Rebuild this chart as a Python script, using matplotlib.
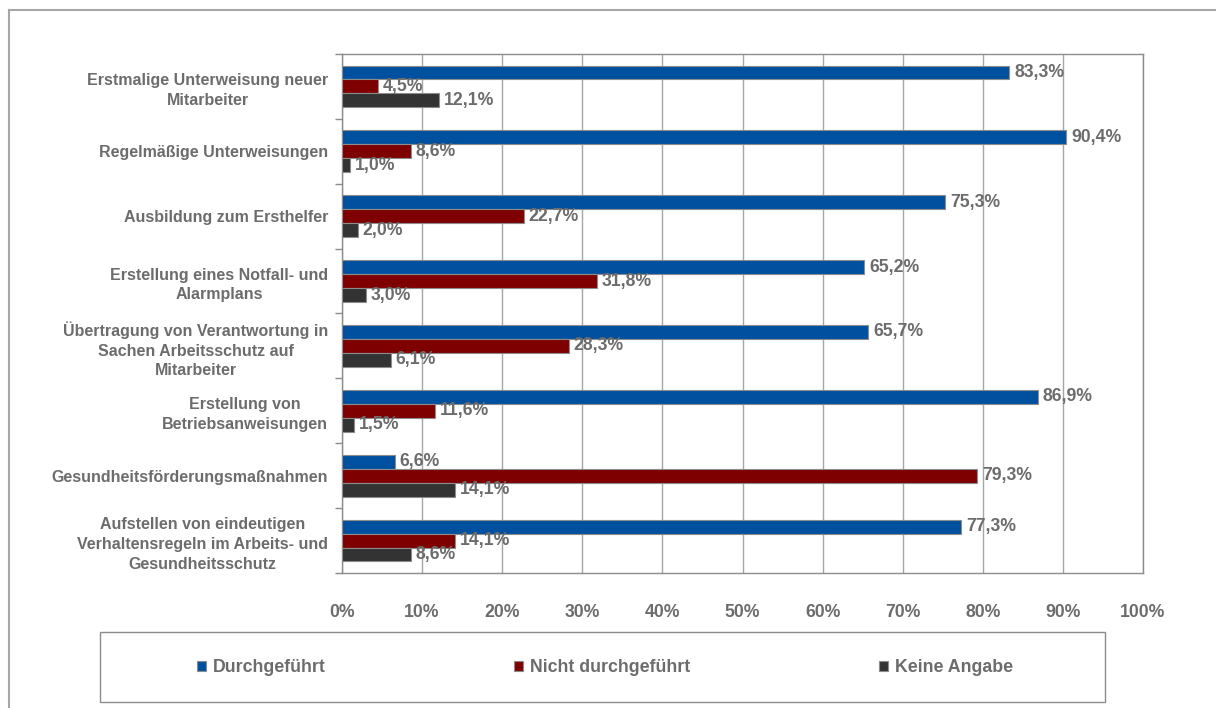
import numpy as np
import matplotlib.pyplot as plt
from matplotlib.patches import Rectangle
from matplotlib.lines import Line2D

plt.rcParams['font.family'] = ['Liberation Sans', 'DejaVu Sans']
plt.rcParams['font.weight'] = 'bold'

categories = [
    'Erstmalige Unterweisung neuer\nMitarbeiter',
    'Regelmäßige Unterweisungen',
    'Ausbildung zum Ersthelfer',
    'Erstellung eines Notfall- und\nAlarmplans',
    'Übertragung von Verantwortung in\nSachen Arbeitsschutz auf\nMitarbeiter',
    'Erstellung von\nBetriebsanweisungen',
    'Gesundheitsförderungsmaßnahmen',
    'Aufstellen von eindeutigen\nVerhaltensregeln im Arbeits- und\nGesundheitsschutz',
]
durchgefuehrt = [83.3, 90.4, 75.3, 65.2, 65.7, 86.9, 6.6, 77.3]
nicht_durchgefuehrt = [4.5, 8.6, 22.7, 31.8, 28.3, 11.6, 79.3, 14.1]
keine_angabe = [12.1, 1.0, 2.0, 3.0, 6.1, 1.5, 14.1, 8.6]

series = [
    ('Durchgeführt', durchgefuehrt, '#0050a0'),
    ('Nicht durchgeführt', nicht_durchgefuehrt, '#7f0000'),
    ('Keine Angabe', keine_angabe, '#333333'),
]

txt = '#6c6c6c'
fig = plt.figure(figsize=(12.16, 7.08), dpi=100)
ax = fig.add_axes([342 / 1216, 1 - 573 / 708, 801 / 1216, 519 / 708])

y = np.arange(len(categories))
h = 0.215
for i, (name, vals, col) in enumerate(series):
    pos = y + (i - 1) * h
    bars = ax.barh(pos, vals, height=h, color=col, edgecolor='#8c8c8c',
                   linewidth=0.8, label=name, zorder=3)
    for b, v in zip(bars, vals):
        ax.text(v + 0.6, b.get_y() + h / 2, f'{v:.1f}%'.replace('.', ','),
                va='center', ha='left', fontsize=12.7, color=txt,
                fontweight='bold', zorder=4)

ax.set_xlim(0, 100)
ax.set_ylim(len(categories) - 0.5, -0.5)
ax.set_xticks(np.arange(0, 101, 10))
ax.set_xticklabels([f'{t}%' for t in range(0, 101, 10)], fontsize=12.7, color=txt)
ax.tick_params(axis='x', length=0, pad=22)
ax.set_yticks(y)
ax.set_yticklabels(categories, fontsize=11.5, color=txt, multialignment='center',
                   linespacing=1.4)
ax.tick_params(axis='y', which='major', length=0, pad=10)
ax.set_yticks(np.arange(-0.5, len(categories)), minor=True)
ax.tick_params(axis='y', which='minor', length=5, color='#8c8c8c', width=1)
ax.grid(axis='x', color='#a6a6a6', linewidth=1, zorder=0)
for s in ax.spines.values():
    s.set_color('#8c8c8c')
    s.set_linewidth(1)

# legend box and outer border
fig.patches.append(Rectangle((100 / 1216, 1 - 702 / 708), 1005 / 1216, 70 / 708,
                             transform=fig.transFigure, fill=False,
                             edgecolor='#8c8c8c', linewidth=1))
fig.lines.append(Line2D([9 / 1216, 1], [1 - 10 / 708] * 2, transform=fig.transFigure,
                        color='#a6a6a6', linewidth=1.5))
fig.lines.append(Line2D([9 / 1216] * 2, [0, 1 - 10 / 708], transform=fig.transFigure,
                        color='#a6a6a6', linewidth=1.5))

leg = fig.legend(loc='center', bbox_to_anchor=(605 / 1216, 1 - 668 / 708), ncol=3,
                 frameon=False, fontsize=12.8, handlelength=0.5, handleheight=0.5,
                 handletextpad=0.4, columnspacing=10.6)
for t in leg.get_texts():
    t.set_color(txt)

fig.savefig('out.png', dpi=100, facecolor='white')
